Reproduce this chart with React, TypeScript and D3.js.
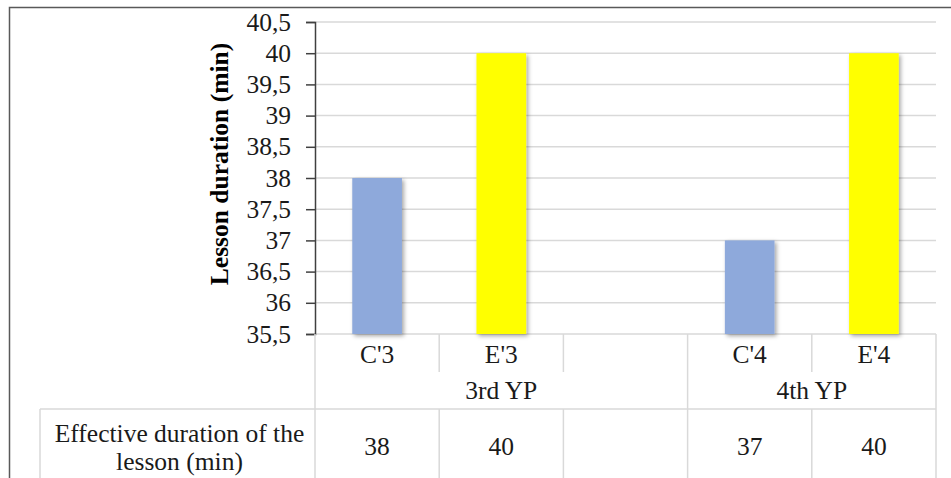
import React, { useEffect, useRef } from 'react'
import * as d3 from 'd3'

const categories = ["C'3", "E'3", "", "C'4", "E'4"]
const durations = [38, 40, null, 37, 40]
const barColors = ['#8EA9DB', '#FFFF00', 'none', '#8EA9DB', '#FFFF00']
const groupLabels = ['3rd YP', '4th YP']
const groupFirst = [0, 3]
const groupLast = [2, 4]
const yTicks = [35.5, 36, 36.5, 37, 37.5, 38, 38.5, 39, 39.5, 40, 40.5]
const rowTitle = ['Effective duration of the', 'lesson (min)']
const yTitle = 'Lesson duration (min)'

function App() {
    const svgRef = useRef<SVGSVGElement>(null)

    useEffect(() => {
        const width = 951
        const height = 478
        const left = 315
        const right = 936
        const top = 22
        const bottom = 334
        const catRowEnd = 372
        const groupRowEnd = 409
        const tableLeft = 40
        const font = 'Liberation Serif, DejaVu Serif, serif'
        const fontSize = 25.5
        const gridColor = '#D9D9D9'

        const svg = d3.select(svgRef.current)
        svg.selectAll('*').remove()
        svg.attr('width', width).attr('height', height)
            .style('font-family', font)

        const defs = svg.append('defs')
        defs.append('filter')
            .attr('id', 'shadow')
            .attr('x', '-20%').attr('y', '-20%')
            .attr('width', '150%').attr('height', '150%')
            .append('feDropShadow')
            .attr('dx', 2).attr('dy', 2)
            .attr('stdDeviation', 2)
            .attr('flood-color', '#000')
            .attr('flood-opacity', 0.35)

        svg.append('rect')
            .attr('width', width).attr('height', height)
            .attr('fill', '#fff')

        // outer frame
        svg.append('path')
            .attr('d', `M9.5,${height} V7.5 H${width}`)
            .attr('fill', 'none')
            .attr('stroke', '#595959')
            .attr('stroke-width', 1.5)

        const keys = categories.map((_, i) => String(i))
        const x = d3.scaleBand().domain(keys).range([left, right])
        const y = d3.scaleLinear().domain([35.5, 40.5]).range([bottom, top])

        // gridlines
        svg.append('g')
            .selectAll('line')
            .data(yTicks)
            .join('line')
            .attr('x1', left).attr('x2', right)
            .attr('y1', (d) => y(d)).attr('y2', (d) => y(d))
            .attr('stroke', gridColor)
            .attr('stroke-width', 1.5)

        // bars
        svg.append('g')
            .selectAll('rect')
            .data(durations.map((v, i) => ({ v, i })).filter((d) => d.v !== null))
            .join('rect')
            .attr('x', (d) => x(String(d.i))! + x.bandwidth() * 0.3)
            .attr('width', x.bandwidth() * 0.4)
            .attr('y', (d) => y(d.v as number))
            .attr('height', (d) => bottom - y(d.v as number))
            .attr('fill', (d) => barColors[d.i])
            .attr('filter', 'url(#shadow)')

        // y axis
        const yAxis = d3.axisLeft(y)
            .tickValues(yTicks)
            .tickSize(9)
            .tickPadding(15)
            .tickFormat((d) => String(d).replace('.', ','))
        const ag = svg.append('g')
            .attr('transform', `translate(${left},0)`)
            .call(yAxis)
        ag.attr('font-family', null).attr('font-size', null)
        ag.select('.domain').attr('stroke', '#404040').attr('stroke-width', 1.5)
        ag.selectAll('.tick line').attr('stroke', '#404040').attr('stroke-width', 1.5)
        ag.selectAll('.tick text')
            .style('font-family', font)
            .style('font-size', `${fontSize}px`)
            .attr('fill', '#1a1a1a')

        svg.append('text')
            .attr('transform', `translate(228,164) rotate(-90)`)
            .attr('text-anchor', 'middle')
            .style('font-family', font)
            .style('font-weight', 'bold')
            .style('font-size', `${fontSize}px`)
            .attr('fill', '#000')
            .text(yTitle)

        // category table lines
        const lines = svg.append('g')
            .attr('stroke', gridColor)
            .attr('stroke-width', 1.5)
        lines.append('line')
            .attr('x1', left).attr('x2', left)
            .attr('y1', bottom).attr('y2', height)
        lines.append('line')
            .attr('x1', right).attr('x2', right)
            .attr('y1', bottom).attr('y2', height)
        lines.append('line')
            .attr('x1', tableLeft).attr('x2', right)
            .attr('y1', groupRowEnd).attr('y2', groupRowEnd)
        lines.append('line')
            .attr('x1', tableLeft).attr('x2', tableLeft)
            .attr('y1', groupRowEnd).attr('y2', height)
        keys.slice(1).forEach((k, j) => {
            const i = j + 1
            const gx = x(k)!
            const isGroupEdge = groupFirst.includes(i)
            lines.append('line')
                .attr('x1', gx).attr('x2', gx)
                .attr('y1', bottom).attr('y2', isGroupEdge ? groupRowEnd : catRowEnd)
            lines.append('line')
                .attr('x1', gx).attr('x2', gx)
                .attr('y1', groupRowEnd).attr('y2', height)
        })

        const textStyle = (sel: d3.Selection<SVGTextElement, any, any, any>) =>
            sel.style('font-family', font)
                .style('font-size', `${fontSize}px`)
                .attr('fill', '#1a1a1a')
                .attr('text-anchor', 'middle')

        svg.append('g')
            .selectAll('text')
            .data(categories.map((c, i) => ({ c, i })))
            .join('text')
            .attr('x', (d) => x(String(d.i))! + x.bandwidth() / 2)
            .attr('y', 363)
            .text((d) => d.c)
            .call(textStyle)

        svg.append('g')
            .selectAll('text')
            .data(groupLabels.map((g, i) => ({ g, i })))
            .join('text')
            .attr('x', (d) => (x(String(groupFirst[d.i]))! + x(String(groupLast[d.i]))! + x.bandwidth()) / 2)
            .attr('y', 399)
            .text((d) => d.g)
            .call(textStyle)

        svg.append('g')
            .selectAll('text')
            .data(durations.map((v, i) => ({ v, i })).filter((d) => d.v !== null))
            .join('text')
            .attr('x', (d) => x(String(d.i))! + x.bandwidth() / 2)
            .attr('y', 455)
            .text((d) => String(d.v))
            .call(textStyle)

        svg.append('g')
            .selectAll('text')
            .data(rowTitle)
            .join('text')
            .attr('x', (tableLeft + left) / 2 + 2)
            .attr('y', (_, i) => 442 + i * 28)
            .text((d) => d)
            .call(textStyle)
    }, [])

    return (
        <div>
            <svg ref={svgRef} style={{ position: 'absolute', left: 0, top: 0 }}></svg>
        </div>
    )
}

export default App
